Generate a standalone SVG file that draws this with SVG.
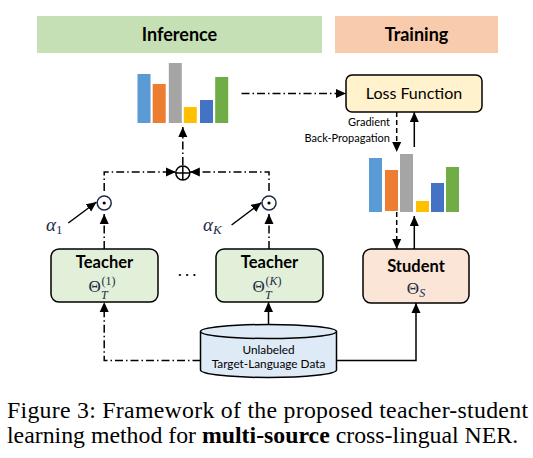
<svg xmlns="http://www.w3.org/2000/svg" width="533" height="458" viewBox="0 0 533 458">
<style>
.lbl{font-family:Lato,"Open Sans","Liberation Sans",sans-serif;fill:#000}
.b{font-weight:bold}
.math{font-family:"Liberation Serif","DejaVu Serif",serif;fill:#1e2a48}
.ln{fill:none;stroke:#000;stroke-width:1.5}
.dd{stroke-dasharray:8 3 1.5 3}
.da{stroke-dasharray:5 3}
.box{stroke:#000;stroke-width:1.5}
.cap{font-family:"Liberation Serif","Times New Roman",serif;font-size:23.8px;fill:#000}
</style>
<defs>
<marker id="ah" markerUnits="userSpaceOnUse" markerWidth="10" markerHeight="10" viewBox="0 0 10 10" refX="10" refY="5" orient="auto">
<path d="M0,0.5 L10,5 L0,9.5 Z" fill="#000"/>
</marker>
</defs>

<g id="banner-inference">
<rect x="37" y="16" width="285" height="37" fill="#c5e0b4"/>
<text class="lbl b" x="179.5" y="41" font-size="18" text-anchor="middle">Inference</text>
</g>
<g id="banner-training">
<rect x="335" y="16" width="163" height="37" fill="#f8cbad"/>
<text class="lbl b" x="416.5" y="41" font-size="18" text-anchor="middle">Training</text>
</g>

<g id="chart-teachers">
<rect x="137.5" y="74" width="13" height="49" fill="#5b9bd5"/>
<rect x="152.7" y="84" width="13" height="39" fill="#ed7d31"/>
<rect x="168.8" y="63" width="13" height="60" fill="#a5a5a5"/>
<rect x="183.8" y="107" width="13" height="16" fill="#ffc000"/>
<rect x="200" y="100" width="13" height="23" fill="#4472c4"/>
<rect x="215.2" y="77" width="13" height="46" fill="#70ad47"/>
</g>

<g id="chart-student">
<rect x="369" y="158" width="13" height="54" fill="#5b9bd5"/>
<rect x="385" y="170" width="13" height="41" fill="#ed7d31"/>
<rect x="400" y="154" width="13" height="58" fill="#a5a5a5"/>
<rect x="416" y="201" width="13" height="11" fill="#ffc000"/>
<rect x="431" y="183" width="13" height="29" fill="#4472c4"/>
<rect x="446" y="167" width="13" height="45" fill="#70ad47"/>
</g>

<g id="loss">
<rect class="box" x="346" y="75" width="136" height="37" rx="6" fill="#fff2cc"/>
<text class="lbl" x="414" y="99" font-size="16" text-anchor="middle">Loss Function</text>
</g>

<g id="grad-label">
<text class="lbl" x="390" y="126" font-size="11" text-anchor="end">Gradient</text>
<text class="lbl" x="390" y="142" font-size="11" text-anchor="end">Back-Propagation</text>
</g>

<g id="sum">
<circle cx="182.8" cy="173" r="7" fill="none" stroke="#000" stroke-width="1.5"/>
<path class="ln" d="M175.8,173 H189.8 M182.8,166 V180"/>
</g>
<g id="dot1">
<circle cx="104.2" cy="203" r="7" fill="none" stroke="#1e2a48" stroke-width="1.5"/>
<circle cx="104.2" cy="203" r="1.6" fill="#000"/>
</g>
<g id="dotK">
<circle cx="269" cy="203" r="7" fill="none" stroke="#1e2a48" stroke-width="1.5"/>
<circle cx="269" cy="203" r="1.6" fill="#000"/>
</g>

<g id="alpha1">
<text class="math" x="46" y="231" font-size="19" font-style="italic">α<tspan font-size="13" font-style="normal" dy="3">1</tspan></text>
</g>
<g id="alphaK">
<text class="math" x="203" y="231" font-size="19" font-style="italic">α<tspan font-size="13" dy="3">K</tspan></text>
</g>

<g id="teacher1">
<rect class="box" x="51" y="249" width="107" height="53" rx="8" fill="#e2f0d9"/>
<text class="lbl b" x="104.5" y="268" font-size="16.5" text-anchor="middle">Teacher</text>
<text class="math" x="88.5" y="292" font-size="17">Θ</text>
<text class="math" x="101" y="298.5" font-size="12" font-style="italic">T</text>
<text class="math" x="101.5" y="284.5" font-size="12">(1)</text>
</g>
<g id="dots">
<text class="lbl" x="187" y="279" font-size="14" text-anchor="middle">· · ·</text>
</g>
<g id="teacherK">
<rect class="box" x="216" y="249" width="107" height="53" rx="8" fill="#e2f0d9"/>
<text class="lbl b" x="269.5" y="268" font-size="16.5" text-anchor="middle">Teacher</text>
<text class="math" x="252.5" y="292" font-size="17">Θ</text>
<text class="math" x="265" y="298.5" font-size="12" font-style="italic">T</text>
<text class="math" x="265.5" y="284.5" font-size="12">(<tspan font-style="italic">K</tspan>)</text>
</g>
<g id="student">
<rect class="box" x="363" y="249" width="106" height="54" rx="8" fill="#fbe5d6"/>
<text class="lbl b" x="416" y="272" font-size="16.5" text-anchor="middle">Student</text>
<text class="math" x="416" y="294" font-size="17" text-anchor="middle">Θ<tspan font-size="12" font-style="italic" dy="3">S</tspan></text>
</g>

<g id="data">
<path d="M200.5,331.5 V370 A68,7.5 0 0 0 336.5,370 V331.5" fill="#deebf7" stroke="#000" stroke-width="1.5"/>
<ellipse cx="268.5" cy="331.5" rx="68" ry="7" fill="#deebf7" stroke="#000" stroke-width="1.5"/>
<text class="lbl" x="268.5" y="353.5" font-size="11.8" text-anchor="middle" fill="#1e2a48">Unlabeled</text>
<text class="lbl" x="268.5" y="368" font-size="11.8" text-anchor="middle" fill="#1e2a48">Target-Language Data</text>
</g>

<g id="connectors">
<path class="ln dd" d="M241.5,93.5 H346" marker-end="url(#ah)"/>
<path class="ln da" d="M396.7,112 V152" marker-end="url(#ah)"/>
<path class="ln" d="M414.3,147 V112" marker-end="url(#ah)"/>
<path class="ln da" d="M396.7,212 V249" marker-end="url(#ah)"/>
<path class="ln" d="M414.3,249 V216" marker-end="url(#ah)"/>
<path class="ln dd" d="M182.8,165 V127" marker-end="url(#ah)"/>
<path class="ln dd" d="M104.2,191 V172 H175.8" marker-end="url(#ah)"/>
<path class="ln dd" d="M269,191 V172 H189.8" marker-end="url(#ah)"/>
<path class="ln dd" d="M104.2,249 V214" marker-end="url(#ah)"/>
<path class="ln dd" d="M269,249 V214" marker-end="url(#ah)"/>
<path class="ln" d="M68.3,223 L96.5,202" marker-end="url(#ah)"/>
<path class="ln" d="M231.6,225 L261.5,202.5" marker-end="url(#ah)"/>
<path class="ln dd" d="M200.5,360.5 H104.2 V302" marker-end="url(#ah)"/>
<path class="ln" d="M268.5,324.5 V302" marker-end="url(#ah)"/>
<path class="ln" d="M336.5,360.5 H416 V303" marker-end="url(#ah)"/>
</g>

<g id="caption">
<text class="cap" x="7" y="418" textLength="521" lengthAdjust="spacing">Figure 3: Framework of the proposed teacher-student</text>
<text class="cap" x="7" y="443">learning method for <tspan font-weight="bold">multi-source</tspan> cross-lingual NER.</text>
</g>
</svg>
